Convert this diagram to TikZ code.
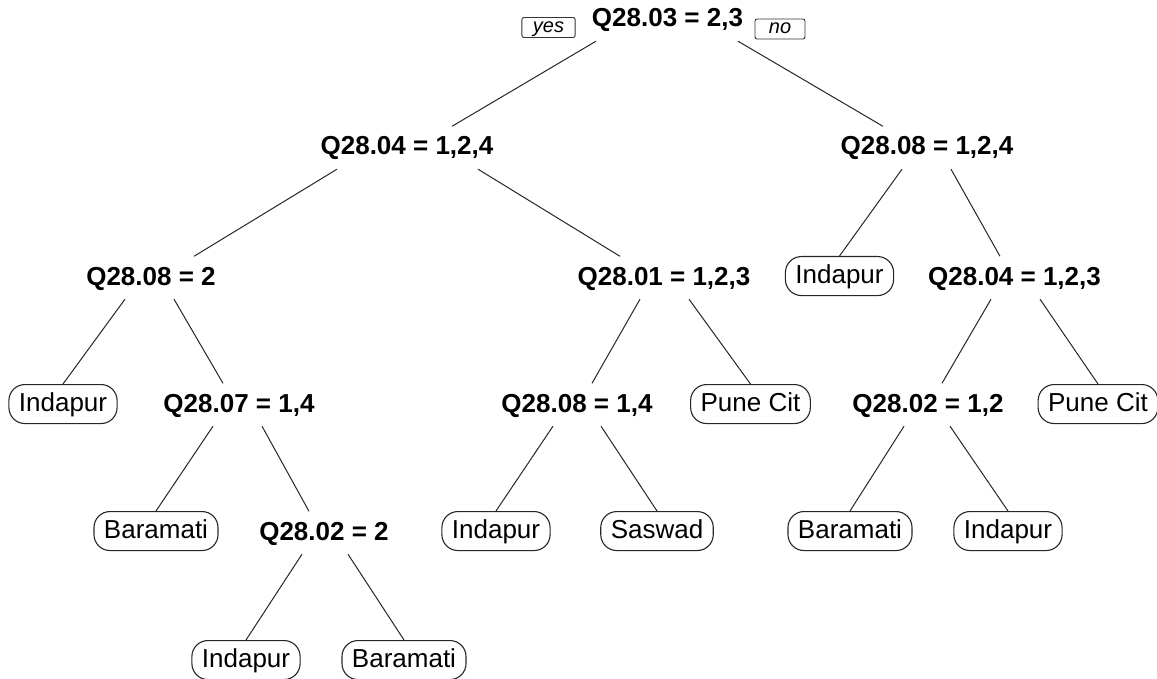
\documentclass[tikz,border=0pt]{standalone}
\usepackage{fontspec}
\setmainfont{Liberation Sans}
\usepackage{tikz}

\begin{document}
\begin{tikzpicture}[x=1pt, y=-1pt]

\tikzstyle{split}=[inner sep=0pt, text height=28.5pt, text depth=14pt, anchor=base, font=\fontsize{26}{30}\selectfont\bfseries]
\tikzstyle{leaf}=[rectangle, draw=black!85, line width=1.1pt, rounded corners=16pt, inner xsep=10pt, inner ysep=0pt, text height=27pt, text depth=12pt, anchor=north, font=\fontsize{26}{30}\selectfont]
\tikzstyle{yesno}=[rectangle, draw=black!80, line width=0.9pt, rounded corners=2pt, inner xsep=11pt, inner ysep=0pt, text height=15pt, text depth=5pt, minimum width=50pt, font=\fontsize{20}{24}\selectfont\itshape]
\tikzstyle{branch}=[draw=black!85, line width=1pt]

\useasboundingbox (0,0) rectangle (1157,679);

% splits
\node (root)   [split] at (667.5,27) {Q28.03 = 2,3};
\node (q0804)  [split] at (407,155)  {Q28.04 = 1,2,4};
\node (q0808)  [split] at (927,155)  {Q28.08 = 1,2,4};
\node (q0808b) [split] at (151,285)  {Q28.08 = 2};
\node (q0801)  [split] at (664,285)  {Q28.01 = 1,2,3};
\node (q0804b) [split] at (1014.5,285) {Q28.04 = 1,2,3};
\node (q0807)  [split] at (239,412)  {Q28.07 = 1,4};
\node (q0808c) [split] at (577,412)  {Q28.08 = 1,4};
\node (q0802)  [split] at (928,412)  {Q28.02 = 1,2};
\node (q0802b) [split] at (324,540)  {Q28.02 = 2};

\node (yes) [yesno] at (548.5,27.5) {yes};
\node (no)  [yesno] at (780,29)     {no};

% leaves
\node (leafA) [leaf] at (839.5,256) {Indapur};
\node (leafB) [leaf] at (63,384)    {Indapur};
\node (leafC) [leaf] at (750.5,384) {Pune Cit};
\node (leafD) [leaf] at (1098,384)  {Pune Cit};
\node (leafE) [leaf] at (156,511)   {Baramati};
\node (leafF) [leaf] at (496,511)   {Indapur};
\node (leafG) [leaf] at (657,511)   {Saswad};
\node (leafH) [leaf] at (850,511)   {Baramati};
\node (leafI) [leaf] at (1008,511)  {Indapur};
\node (leafJ) [leaf] at (246,640)   {Indapur};
\node (leafK) [leaf] at (404,640)   {Baramati};

% branches
\draw[branch] ([xshift=-71.5pt]root.south) -- ([xshift=45pt]q0804.north);
\draw[branch] ([xshift=70.5pt]root.south) -- ([xshift=-44pt]q0808.north);
\draw[branch] ([xshift=-70pt]q0804.south) -- ([xshift=43pt]q0808b.north);
\draw[branch] ([xshift=71pt]q0804.south) -- ([xshift=-44pt]q0801.north);
\draw[branch] ([xshift=-25pt]q0808.south) -- (leafA.north);
\draw[branch] ([xshift=24pt]q0808.south) -- ([xshift=-14.5pt]q0804b.north);
\draw[branch] ([xshift=-26pt]q0808b.south) -- (leafB.north);
\draw[branch] ([xshift=23pt]q0808b.south) -- ([xshift=-16pt]q0807.north);
\draw[branch] ([xshift=-24pt]q0801.south) -- ([xshift=15pt]q0808c.north);
\draw[branch] ([xshift=25pt]q0801.south) -- (leafC.north);
\draw[branch] ([xshift=-23.5pt]q0804b.south) -- ([xshift=14pt]q0802.north);
\draw[branch] ([xshift=25.5pt]q0804b.south) -- (leafD.north);
\draw[branch] ([xshift=-26pt]q0807.south) -- (leafE.north);
\draw[branch] ([xshift=23pt]q0807.south) -- ([xshift=-15pt]q0802b.north);
\draw[branch] ([xshift=-24pt]q0808c.south) -- (leafF.north);
\draw[branch] ([xshift=24pt]q0808c.south) -- (leafG.north);
\draw[branch] ([xshift=-24pt]q0802.south) -- (leafH.north);
\draw[branch] ([xshift=22pt]q0802.south) -- (leafI.north);
\draw[branch] ([xshift=-22pt]q0802b.south) -- (leafJ.north);
\draw[branch] ([xshift=24pt]q0802b.south) -- (leafK.north);
\end{tikzpicture}
\end{document}
